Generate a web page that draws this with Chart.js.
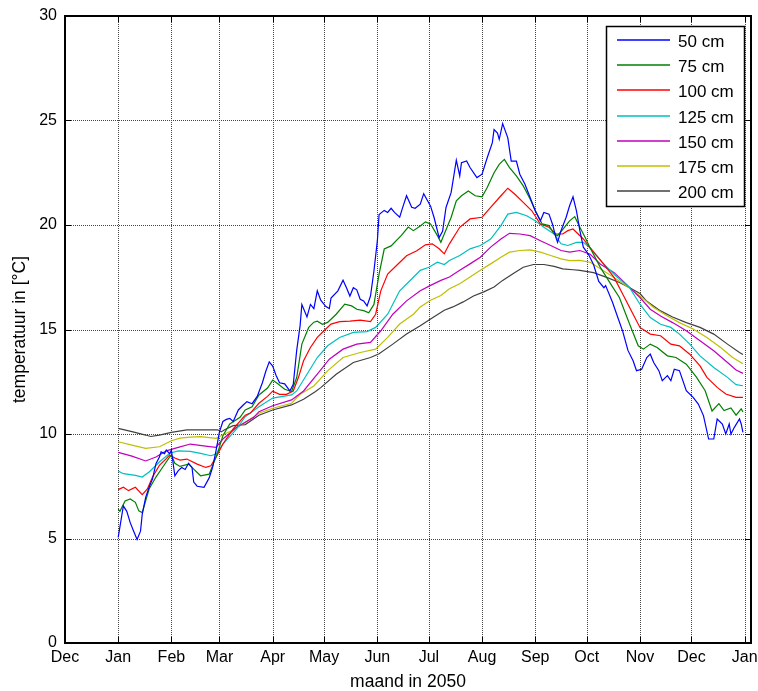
<!DOCTYPE html>
<html>
<head>
<meta charset="utf-8">
<script src="https://cdn.jsdelivr.net/npm/chart.js@4.4.1/dist/chart.umd.min.js"></script>
<style>
  html, body { margin: 0; padding: 0; background: #fff; }
  canvas { display: block; }
</style>
</head>
<body>
<canvas id="c" width="758" height="691"></canvas>
<script>
// Month starts, as day numbers counted from 1 January 2050
const monthDays = [-31, 0, 31, 59, 90, 120, 151, 181, 212, 243, 273, 304, 334, 365];
const monthLabels = ['Dec', 'Jan', 'Feb', 'Mar', 'Apr', 'May', 'Jun', 'Jul', 'Aug', 'Sep', 'Oct', 'Nov', 'Dec', 'Jan'];
const yTicks = [0, 5, 10, 15, 20, 25, 30];
const seriesLabels = ['50 cm', '75 cm', '100 cm', '125 cm', '150 cm', '175 cm', '200 cm'];

// Soil temperature [°C] per depth: [day, temperature]
const s50 = [[0,5.05],[3,6.56],[5,6.3],[7,5.76],[9,5.35],[11,4.95],[13,5.35],[14,6.16],[16,6.97],[18,7.45],[20,7.85],[22,8.58],[24,8.9],[25,9.15],[27,9.06],[28,9.23],[30,9.06],[31,9.23],[32,8.6],[33,8.0],[35,8.25],[37,8.4],[39,8.3],[41,8.6],[43,8.4],[44,7.7],[46,7.5],[50,7.45],[53,7.9],[55,8.4],[57,9.2],[59,10.1],[61,10.6],[63,10.7],[65,10.75],[67,10.6],[70,11.15],[73,11.4],[75,11.55],[78,11.45],[81,11.8],[84,12.45],[86,13.0],[88,13.45],[90,13.25],[92,12.8],[94,12.45],[97,12.4],[100,12.06],[102,12.38],[104,14.0],[106,15.2],[107,16.2],[110,15.6],[112,16.2],[114,16.0],[116,16.85],[118,16.4],[121,16.1],[123,16.0],[124,16.5],[128,16.85],[131,17.36],[133,17.0],[135,16.6],[137,17.0],[139,16.9],[141,16.45],[143,16.37],[145,16.13],[147,16.6],[149,17.8],[151,19.25],[152,20.5],[155,20.7],[157,20.6],[159,20.8],[161,20.6],[164,20.37],[166,20.9],[168,21.4],[171,20.85],[173,20.8],[176,21.0],[178,21.5],[180,21.2],[182,20.9],[184,20.37],[187,19.4],[189,19.7],[191,20.84],[194,21.56],[197,23.1],[199,22.35],[200,22.98],[203,23.06],[205,22.75],[209,22.27],[212,22.43],[215,23.22],[218,23.94],[219,24.57],[221,24.4],[222,24.1],[224,24.85],[227,24.17],[229,23.06],[232,23.06],[234,22.43],[237,21.95],[240,21.32],[243,20.68],[246,20.2],[248,20.6],[251,20.52],[253,20.05],[255,19.41],[256,19.17],[258,19.73],[261,20.37],[263,20.92],[265,21.35],[267,20.68],[269,19.73],[271,18.94],[274,18.6],[277,18.1],[280,17.3],[283,17.0],[284,17.1],[288,16.3],[291,15.6],[294,14.9],[297,14.0],[300,13.5],[302,13.03],[305,13.1],[308,13.66],[310,13.82],[312,13.42],[315,13.03],[317,12.55],[320,12.79],[322,12.55],[324,13.1],[327,13.03],[331,12.07],[335,11.75],[338,11.43],[341,10.88],[344,9.76],[347,9.76],[349,10.72],[352,10.48],[354,10.0],[356,10.48],[357,10.0],[359,10.32],[362,10.72],[363,10.48],[364,10.08]];

const s75 = [[0,6.4],[1,6.3],[4,6.8],[7,6.89],[10,6.73],[12,6.32],[14,6.24],[16,6.8],[18,7.37],[22,7.94],[26,8.42],[30,8.9],[31,8.98],[33,8.6],[36,8.45],[41,8.56],[44,8.32],[48,8.0],[53,8.08],[55,8.48],[58,9.12],[61,9.92],[65,10.48],[71,10.8],[74,11.15],[78,11.3],[82,11.87],[87,12.2],[90,12.58],[93,12.4],[97,12.14],[101,12.03],[104,12.7],[107,14.3],[111,15.1],[114,15.35],[116,15.4],[119,15.25],[122,15.34],[127,15.73],[132,16.21],[136,16.13],[139,15.97],[143,15.9],[146,15.8],[149,16.2],[152,17.65],[155,18.85],[159,19.0],[165,19.5],[169,19.9],[172,19.73],[176,19.95],[179,20.15],[182,20.05],[186,19.49],[188,19.17],[190,19.57],[194,20.37],[197,21.16],[200,21.4],[204,21.63],[208,21.4],[212,21.35],[215,21.79],[219,22.5],[222,22.9],[225,23.14],[228,22.75],[232,22.35],[236,21.87],[240,21.24],[243,20.68],[247,20.05],[251,19.97],[254,19.57],[256,19.49],[260,19.89],[263,20.2],[266,20.4],[269,19.89],[272,19.41],[275,18.9],[281,17.96],[287,17.17],[292,16.53],[298,15.25],[303,14.22],[306,14.06],[310,14.3],[314,14.14],[320,13.74],[325,13.66],[331,13.34],[337,12.71],[342,12.07],[346,11.1],[350,11.45],[353,11.12],[357,11.25],[360,10.9],[363,11.2],[364,11.05]];

const s100 = [[0,7.34],[3,7.45],[6,7.29],[10,7.45],[14,7.1],[17,7.37],[20,7.94],[24,8.5],[28,8.82],[30,9.0],[33,8.85],[36,8.75],[40,8.8],[46,8.56],[51,8.4],[54,8.48],[57,8.88],[61,9.52],[67,10.24],[74,10.9],[77,11.0],[82,11.47],[87,11.8],[90,12.05],[94,11.9],[98,11.9],[102,12.06],[105,12.7],[108,13.5],[112,14.14],[116,14.62],[120,14.95],[124,15.26],[129,15.38],[135,15.4],[141,15.45],[147,15.38],[150,15.73],[153,16.85],[157,17.65],[162,18.05],[168,18.53],[174,18.77],[179,19.05],[183,19.1],[187,18.86],[190,18.62],[193,19.1],[199,19.89],[205,20.29],[212,20.37],[217,20.84],[223,21.4],[227,21.76],[231,21.48],[236,21.08],[241,20.68],[246,20.05],[251,19.89],[255,19.57],[259,19.57],[262,19.73],[265,19.81],[268,19.57],[271,19.33],[275,18.9],[283,18.12],[289,17.48],[294,16.69],[300,15.73],[304,15.1],[310,14.78],[316,14.7],[322,14.3],[327,14.22],[333,13.82],[339,13.26],[343,12.71],[349,12.23],[354,11.91],[360,11.75],[364,11.75]];

const s125 = [[0,8.23],[3,8.1],[10,8.02],[14,7.94],[18,8.18],[24,8.66],[30,9.08],[35,9.19],[42,9.17],[48,9.07],[54,8.96],[57,9.04],[61,9.52],[69,10.24],[74,10.83],[82,11.3],[90,11.72],[101,11.87],[104,12.06],[110,12.86],[116,13.66],[122,14.22],[129,14.62],[137,14.86],[145,14.9],[150,15.1],[157,15.73],[164,16.85],[172,17.5],[176,17.83],[181,17.98],[186,18.22],[190,18.11],[193,18.3],[199,18.54],[205,18.86],[211,19.02],[217,19.33],[223,19.97],[227,20.52],[232,20.6],[238,20.44],[243,20.2],[248,19.89],[254,19.57],[258,19.1],[262,19.02],[267,19.17],[271,19.17],[275,18.9],[283,18.12],[290,17.56],[298,17.0],[304,16.21],[310,15.57],[316,15.25],[322,15.1],[327,14.78],[333,14.3],[339,13.74],[347,13.18],[355,12.71],[360,12.36],[364,12.31]];

const s150 = [[0,9.12],[8,8.94],[16,8.71],[22,8.9],[28,9.19],[35,9.36],[42,9.52],[52,9.41],[57,9.36],[61,9.76],[69,10.32],[79,10.8],[82,11.07],[90,11.35],[101,11.63],[108,12.06],[116,12.86],[123,13.58],[131,14.06],[139,14.3],[147,14.38],[153,14.94],[160,15.73],[168,16.37],[176,16.85],[182,17.11],[188,17.35],[193,17.51],[199,17.83],[205,18.14],[211,18.46],[217,18.94],[223,19.33],[228,19.6],[234,19.57],[240,19.49],[246,19.25],[252,19.02],[258,18.78],[263,18.7],[269,18.78],[275,18.6],[281,18.12],[289,17.72],[296,17.17],[304,16.53],[310,15.97],[316,15.65],[323,15.33],[331,14.94],[339,14.46],[347,13.98],[355,13.42],[360,13.06],[364,12.9]];

const s175 = [[0,9.63],[8,9.47],[16,9.31],[24,9.39],[31,9.68],[36,9.8],[42,9.85],[48,9.87],[57,9.79],[62,10.0],[67,10.19],[74,10.55],[82,10.99],[90,11.23],[101,11.47],[106,11.9],[114,12.3],[122,13.02],[131,13.66],[141,13.9],[150,14.06],[157,14.62],[164,15.26],[172,15.73],[176,16.08],[182,16.4],[188,16.63],[193,16.95],[199,17.19],[205,17.51],[211,17.83],[217,18.14],[223,18.46],[228,18.7],[234,18.78],[240,18.81],[246,18.7],[252,18.54],[258,18.38],[263,18.3],[269,18.31],[275,18.22],[283,17.8],[289,17.48],[296,17.09],[304,16.61],[312,16.05],[320,15.65],[327,15.33],[335,15.02],[343,14.62],[351,14.14],[358,13.66],[364,13.36]];

const s200 = [[0,10.27],[8,10.11],[16,9.95],[19,9.88],[24,9.95],[31,10.08],[40,10.2],[50,10.2],[58,10.2],[60,10.1],[62,10.2],[67,10.4],[74,10.45],[82,10.9],[90,11.15],[101,11.39],[108,11.66],[115,12.03],[118,12.22],[127,12.86],[137,13.42],[147,13.66],[152,13.84],[160,14.3],[168,14.78],[176,15.18],[182,15.5],[190,15.92],[195,16.08],[201,16.32],[207,16.6],[213,16.8],[219,17.03],[224,17.35],[230,17.67],[236,17.98],[242,18.11],[248,18.11],[254,18.02],[259,17.9],[265,17.86],[269,17.83],[277,17.72],[285,17.48],[292,17.25],[298,17.0],[304,16.72],[308,16.35],[316,15.89],[323,15.6],[331,15.33],[339,15.1],[347,14.78],[355,14.3],[362,13.9],[364,13.8]];

const seriesData = [s50, s75, s100, s125, s150, s175, s200];
const lineColors = ['#0000ff', '#008000', '#ff0000', '#00bfbf', '#bf00bf', '#bfbf00', '#404040'];

const FONT = "'Liberation Sans', Arial, Helvetica, sans-serif";

// Dotted grid, inward tick marks, the axes box and the legend box
const axesDecor = {
  id: 'axesDecor',
  beforeDatasetsDraw(chart) {
    const { ctx, chartArea: a, scales: { x, y } } = chart;
    ctx.save();
    ctx.strokeStyle = '#444';
    ctx.lineWidth = 1;
    ctx.setLineDash([1, 1]);
    x.ticks.forEach(t => {
      const px = Math.round(x.getPixelForValue(t.value)) + 0.5;
      if (px < a.left + 2 || px > a.right - 2) return;
      ctx.beginPath(); ctx.moveTo(px, a.top); ctx.lineTo(px, a.bottom); ctx.stroke();
    });
    y.ticks.forEach(t => {
      const py = Math.round(y.getPixelForValue(t.value)) + 0.5;
      if (py < a.top + 2 || py > a.bottom - 2) return;
      ctx.beginPath(); ctx.moveTo(a.left, py); ctx.lineTo(a.right, py); ctx.stroke();
    });
    ctx.restore();
  },
  afterDraw(chart) {
    const { ctx, chartArea: a, scales: { x, y } } = chart;
    const tl = 6;
    ctx.save();
    ctx.strokeStyle = '#000';
    ctx.lineWidth = 1;
    ctx.beginPath();
    x.ticks.forEach(t => {
      const px = Math.round(x.getPixelForValue(t.value)) + 0.5;
      ctx.moveTo(px, a.bottom); ctx.lineTo(px, a.bottom - tl);
      ctx.moveTo(px, a.top); ctx.lineTo(px, a.top + tl);
    });
    y.ticks.forEach(t => {
      const py = Math.round(y.getPixelForValue(t.value)) + 0.5;
      ctx.moveTo(a.left, py); ctx.lineTo(a.left + tl, py);
      ctx.moveTo(a.right, py); ctx.lineTo(a.right - tl, py);
    });
    ctx.stroke();
    ctx.lineWidth = 2;
    ctx.strokeRect(a.left, a.top, a.right - a.left, a.bottom - a.top);

    // legend
    const bx = 606, by = 26, bw = 138, bh = 180;
    ctx.fillStyle = '#fff';
    ctx.fillRect(bx, by, bw, bh);
    ctx.lineWidth = 1.5;
    ctx.strokeRect(bx + 0.5, by + 0.5, bw, bh);
    ctx.font = '17px ' + FONT;
    ctx.textAlign = 'left';
    ctx.textBaseline = 'middle';
    chart.data.datasets.forEach((ds, i) => {
      const ly = Math.round(by + 14 + i * 25.17);
      ctx.strokeStyle = ds.borderColor;
      ctx.lineWidth = 1.6;
      ctx.beginPath(); ctx.moveTo(617, ly); ctx.lineTo(670, ly); ctx.stroke();
      ctx.fillStyle = '#000';
      ctx.fillText(ds.label, 678, ly + 2);
    });
    ctx.restore();
  }
};

new Chart(document.getElementById('c'), {
  type: 'line',
  data: {
    datasets: seriesData.map((s, i) => ({
      label: seriesLabels[i],
      data: s.map(p => ({ x: p[0], y: p[1] })),
      borderColor: lineColors[i],
      borderWidth: 1.2,
      pointRadius: 0,
      tension: 0,
      fill: false
    }))
  },
  options: {
    responsive: false,
    animation: false,
    devicePixelRatio: 1,
    layout: { padding: { top: 16, right: 7, bottom: 0, left: 0 } },
    plugins: { legend: { display: false }, tooltip: { enabled: false } },
    scales: {
      x: {
        type: 'linear',
        min: -31,
        max: 368.7,
        afterBuildTicks: s => { s.ticks = monthDays.map(v => ({ value: v })); },
        afterFit: s => { s.height = 48; s.paddingLeft = 0; s.paddingRight = 0; },
        grid: { display: false, drawTicks: false },
        border: { display: false },
        ticks: {
          autoSkip: false,
          maxRotation: 0,
          padding: 5,
          color: '#000',
          font: { family: FONT, size: 16 },
          callback: v => monthLabels[monthDays.indexOf(v)]
        },
        title: {
          display: true,
          text: 'maand in 2050',
          color: '#000',
          font: { family: FONT, size: 17.5, lineHeight: 1 },
          padding: { top: 0, bottom: 0 }
        }
      },
      y: {
        min: 0,
        max: 30,
        afterBuildTicks: s => { s.ticks = yTicks.map(v => ({ value: v })); },
        afterFit: s => { s.width = 65; s.paddingTop = 0; s.paddingBottom = 0; },
        grid: { display: false, drawTicks: false },
        border: { display: false },
        ticks: {
          padding: 8,
          color: '#000',
          font: { family: FONT, size: 16 },
          callback: v => String(v)
        },
        title: {
          display: true,
          text: 'temperatuur in [°C]',
          color: '#000',
          font: { family: FONT, size: 17.5, lineHeight: 1 },
          padding: { top: 11, bottom: 0 }
        }
      }
    }
  },
  plugins: [axesDecor]
});
</script>
</body>
</html>
